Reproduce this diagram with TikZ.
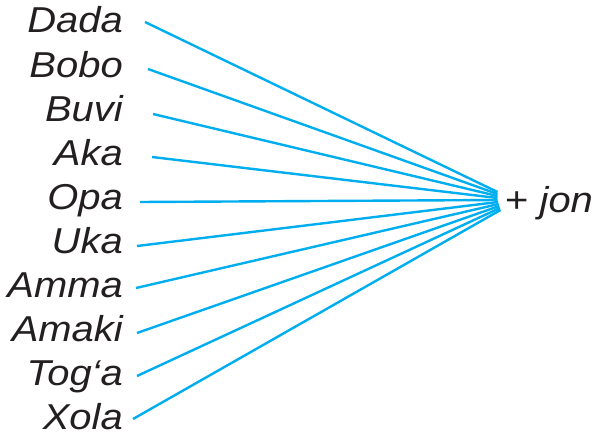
\documentclass[tikz,border=0pt]{standalone}
\usepackage{fontspec}
\setmainfont{Liberation Sans}[FakeStretch=1.11]
\definecolor{linecyan}{RGB}{0,174,239}
\definecolor{textblack}{RGB}{35,31,32}
\begin{document}
\begin{tikzpicture}[x=1pt,y=-1pt,
  word/.style={anchor=base east,inner sep=0pt,font=\fontsize{36}{36}\selectfont\itshape,text=textblack},
  link/.style={draw=linecyan,line width=2.4pt}]
\useasboundingbox (0,0) rectangle (593,436);
\foreach \w/\b/\sx/\sy/\ey [count=\i] in {
  Dada/33/145/22/192,
  Bobo/77/148/69/194,
  Buvi/121/153/114/196,
  Aka/165/152/157/198,
  Opa/209/140/202/200,
  Uka/253/137/246/202,
  Amma/297/136/288/204,
  Amaki/341/137/333/206,
  Tog‘a/385/137/376/208,
  Xola/429/133/419/210}{
  \node[word] (w\i) at (123,\b) {\w};
  \coordinate (s\i) at (\sx,\sy);
  \pgfmathsetmacro{\ex}{497.5+max(0,(\i-5))*0.6}
  \coordinate (e\i) at (\ex,\ey);
  \draw[link] (s\i) -- (e\i);
}
\node[anchor=base west,inner sep=0pt,font=\fontsize{36}{36}\selectfont,text=textblack] (jon) at (505,212) {+ \textit{jon}};
\end{tikzpicture}
\end{document}
